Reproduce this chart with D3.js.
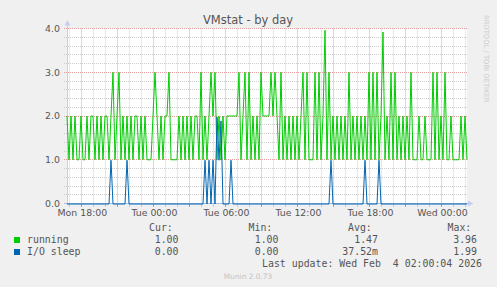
<!DOCTYPE html>
<html>
<head>
<meta charset="utf-8">
<script src="https://cdn.jsdelivr.net/npm/d3@7"></script>
<style>
body { margin: 0; background: #f0f0f0; }
svg { display: block; }
</style>
</head>
<body>
<script>
// samples every 10 minutes, first one at Mon 16:48
var start = new Date(2026, 1, 2, 16, 48);
var end = new Date(2026, 1, 4, 2, 8);
var stepMinutes = 10;

var running = [
    2,1,2,1,2,1,1,2,1,1, 2,1,2,2,1,2,1,2,1,2,
    2,1,2,3,1,2,3,1,2,1, 2,1,2,1,2,2,1,2,1,2,
    1,1,1,2,3,2,1,2,1,2, 2,3,1,1,1,1,2,1,2,1,
    2,1,2,1,2,2,1,3,1,2, 1,2,3,2,3,1,2,1,2,1,
    2,2,2,2,2,2,3,1,2,3, 1,3,1,2,1,2,1,3,2,2,
    2,2,3,2,3,2,1,3,1,2, 1,2,1,2,1,2,1,2,3,1,
    3,1,1,1,3,1,3,1,2,3.96, 1,3,1,2,1,2,1,2,1,2,
    1,3,1,2,1,2,1,2,1,2, 1,3,1,3,1,3,1,2,3.92,1,
    2,1,3,1,3,1,2,1,2,1, 2,1,3,1,1,1,2,1,1,2,
    1,1,1,3,1,3,1,2,1,3, 1,1,2,1,1,1,1,2,1,2,
    1
];

var ioSleep = [
    0,0,0,0,0,0,0,0,0,0, 0,0,0,0,0,0,0,0,0,0,
    0,0,1,0,0,0,0,0,0,0, 1,0,0,0,0,0,0,0,0,0,
    0,0,0,0,0,0,0,0,0,0, 0,0,0,0,0,0,0,0,0,0,
    0,0,0,0,0,0,0,0,0,1, 0,1,0,1,0,1.99,1,1.9,0,0,
    0,0,1,0,0,0,0,0,0,0, 0,0,0,0,0,0,0,0,0,0,
    0,0,0,0,0,0,0,0,0,0, 0,0,0,0,0,0,0,0,0,0,
    0,0,0,0,0,0,0,0,0,0, 0,0,1,0,0,0,0,0,0,0,
    0,0,0,0,0,0,0,0,0,1, 0,0,0,0,0,0,1,0,0,0,
    0,0,0,0,0,0,0,0,0,0, 0,0,0,0,0,0,0,0,0,0,
    0,0,0,0,0,0,0,0,0,0, 0,0,0,0,0,0,0,0,0,0,
    0
];

var seriesNames = ["running", "I/O sleep"];
var seriesColors = ["#00cc00", "#0066b3"];
var statHeads = ["Cur:", "Min:", "Avg:", "Max:"];
var statRunning = ["1.00", "1.00", "1.47", "3.96"];
var statSleep = ["0.00", "0.00", "37.52m", "1.99"];
var yLabels = [0, 1, 2, 3, 4];

var width = 497, height = 287;

var x = d3.scaleTime().domain([start, end]).range([67, 467]);
var y = d3.scaleLinear().domain([0, 4]).range([203.5, 28.5]);

function sampleTime(i) {
    return d3.timeMinute.offset(start, i * stepMinutes);
}
// snap grid lines to the pixel grid
function px(d) { return Math.floor(x(d)) + 0.5; }
function py(d) { return Math.round(y(d) - 0.5) + 0.5; }

var svg = d3.select("body").append("svg")
    .attr("width", width)
    .attr("height", height)
    .style("font-family", "'DejaVu Sans', sans-serif");

svg.append("rect")
    .attr("width", width)
    .attr("height", height)
    .attr("fill", "#f0f0f0");

// plot area
svg.append("rect")
    .attr("x", 67)
    .attr("y", 28.5)
    .attr("width", 400)
    .attr("height", 175)
    .attr("fill", "#ffffff");

// title
svg.append("text")
    .attr("x", 248)
    .attr("y", 24)
    .attr("text-anchor", "middle")
    .style("font-size", "11.5px")
    .attr("fill", "#555")
    .text("VMstat - by day");

// vertical grid
var hours = d3.timeHour.range(d3.timeHour.ceil(start), end);
svg.selectAll(".vgrid")
    .data(hours)
    .enter().append("line")
    .attr("class", "vgrid")
    .attr("x1", px).attr("x2", px)
    .attr("y1", 28.5).attr("y2", 203.5)
    .attr("stroke", function(d) { return d.getHours() % 3 === 0 ? "#e6a0a0" : "#cfcfcf"; })
    .attr("stroke-dasharray", "1,1");

// small ticks under the x axis
svg.selectAll(".xtick")
    .data(hours)
    .enter().append("line")
    .attr("class", "xtick")
    .attr("x1", px).attr("x2", px)
    .attr("y1", 204).attr("y2", 207)
    .attr("stroke", function(d) { return d.getHours() % 3 === 0 ? "#e08a8a" : "#c8c8c8"; });

// horizontal grid
var yMinor = y.ticks(20);
svg.selectAll(".hgrid")
    .data(yMinor.filter(function(d) { return d > 0; }))
    .enter().append("line")
    .attr("class", "hgrid")
    .attr("x1", 64).attr("x2", 467)
    .attr("y1", py)
    .attr("y2", py)
    .attr("stroke", function(d) { return Math.abs(d - Math.round(d)) < 1e-6 ? "#e6a0a0" : "#cfcfcf"; })
    .attr("stroke-dasharray", "1,1");

// y axis labels
svg.selectAll(".ylab")
    .data(yLabels)
    .enter().append("text")
    .attr("class", "ylab")
    .attr("x", 60)
    .attr("y", function(d) { return y(d); })
    .attr("dy", "0.36em")
    .attr("text-anchor", "end")
    .style("font-size", "9.4px")
    .attr("fill", "#555")
    .text(d3.format(".1f"));

// x axis labels
svg.selectAll(".xlab")
    .data(d3.timeHour.every(6).range(start, end))
    .enter().append("text")
    .attr("class", "xlab")
    .attr("x", function(d) { return x(d) + 1; })
    .attr("y", 216)
    .attr("text-anchor", "middle")
    .style("font-size", "9.4px")
    .attr("fill", "#555")
    .text(d3.timeFormat("%a %H:%M"));

// axes with arrows
svg.append("line")
    .attr("x1", 67.5).attr("x2", 67.5)
    .attr("y1", 22).attr("y2", 204)
    .attr("stroke", "#c6cff2");
svg.append("path")
    .attr("d", "M64.5,25.5L67.5,20L70.5,25.5Z")
    .attr("fill", "#c6cff2");
svg.append("line")
    .attr("x1", 64).attr("x2", 469)
    .attr("y1", 203.5).attr("y2", 203.5)
    .attr("stroke", "#a9bbe8");
svg.append("path")
    .attr("d", "M468,200.5L473.5,203.5L468,206.5Z")
    .attr("fill", "#c6cff2");

// the lines
var line = d3.line()
    .x(function(d, i) { return x(sampleTime(i)); })
    .y(function(d) { return y(d); });

svg.append("path")
    .attr("d", line(running))
    .attr("fill", "none")
    .attr("stroke", seriesColors[0])
    .attr("stroke-width", 1);

svg.append("path")
    .attr("d", line(ioSleep))
    .attr("transform", "translate(0,0.5)")
    .attr("fill", "none")
    .attr("stroke", seriesColors[1])
    .attr("stroke-width", 1);

// legend
var mono = "'DejaVu Sans Mono', monospace";
var headX = [149, 248.5, 348, 447.5];
var valX = [178.5, 278.5, 378, 477];

svg.selectAll(".head")
    .data(statHeads)
    .enter().append("text")
    .attr("class", "head")
    .attr("x", function(d, i) { return headX[i]; })
    .attr("y", 230.5)
    .style("font-family", mono)
    .style("font-size", "9.9px")
    .attr("fill", "#555")
    .text(function(d) { return d; });

var rows = [statRunning, statSleep];
rows.forEach(function(vals, r) {
    var yy = 243 + r * 12;
    svg.append("rect")
        .attr("x", 14)
        .attr("y", yy - 6)
        .attr("width", 6)
        .attr("height", 6)
        .attr("fill", seriesColors[r]);
    svg.append("text")
        .attr("x", 27)
        .attr("y", yy)
        .style("font-family", mono)
        .style("font-size", "9.9px")
        .attr("fill", "#555")
        .text(seriesNames[r]);
    svg.selectAll(".v" + r)
        .data(vals)
        .enter().append("text")
        .attr("x", function(d, i) { return valX[i]; })
        .attr("y", yy)
        .attr("text-anchor", "end")
        .style("font-family", mono)
        .style("font-size", "9.9px")
        .attr("fill", "#555")
        .text(function(d) { return d; });
});

svg.append("text")
    .attr("x", 482)
    .attr("y", 266.5)
    .attr("text-anchor", "end")
    .style("font-family", mono)
    .style("font-size", "9.9px")
    .style("white-space", "pre")
    .attr("fill", "#555")
    .text("Last update: Wed Feb  4 02:00:04 2026");

svg.append("text")
    .attr("x", 248)
    .attr("y", 279)
    .attr("text-anchor", "middle")
    .style("font-size", "7.4px")
    .attr("fill", "#c4c4c4")
    .text("Munin 2.0.73");

// rrdtool credit on the right
svg.append("text")
    .attr("transform", "translate(483.5,15) rotate(90)")
    .style("font-size", "6.8px")
    .attr("fill", "#cccccc")
    .text("RRDTOOL / TOBI OETIKER");
</script>
</body>
</html>
